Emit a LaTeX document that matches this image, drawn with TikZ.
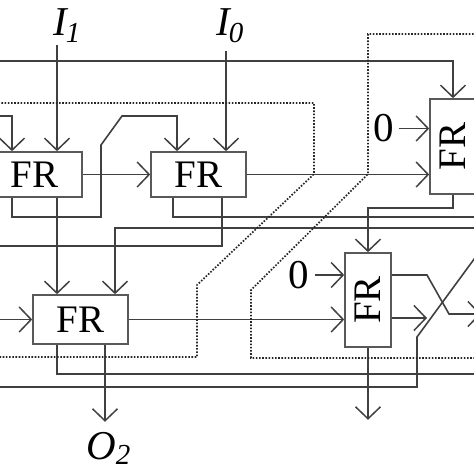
\documentclass[tikz,border=0pt]{standalone}
\usepackage{fontspec}
\setmainfont{Liberation Serif}
\usetikzlibrary{arrows.meta}
\begin{document}
\begin{tikzpicture}[x=1pt,y=-1pt,
  wire/.style={draw=black!75, line width=1.6pt},
  arr/.style={wire,-{Straight Barb[length=12pt,width=25pt,line width=1.5pt]}},
  dots/.style={draw=black!85,line width=1.7pt,dash pattern=on 1.6pt off 1.6pt},
  box/.style={draw=black!65,line width=1.6pt,inner sep=0pt,font=\fontsize{39}{39}\selectfont},
  lbl/.style={inner sep=0pt,font=\fontsize{41}{41}\selectfont}]
\useasboundingbox (0,0) rectangle (474,474);
\clip (0,0) rectangle (474,474);

% boxes
\node[box,minimum width=95pt,minimum height=45pt] (fr1) at (34.5,174.5) {FR};
\node[box,minimum width=95pt,minimum height=45pt] (fr2) at (198.5,174.5) {FR};
\node[box,minimum width=95pt,minimum height=49pt] (fr3) at (80.5,319.5) {FR};
\node[box,minimum width=46pt,minimum height=95pt] (fr4) at (453,146.5) {\rotatebox{90}{FR}};
\node[box,minimum width=46pt,minimum height=94pt] (fr5) at (368,300) {\rotatebox{90}{FR}};

% labels
\node[lbl,anchor=base west] (i1) at (53,35) {\itshape I\kern-1pt\raisebox{-7pt}{\fontsize{29}{29}\selectfont 1}};
\node[lbl,anchor=base west] (i0) at (216,35) {\itshape I\kern-1pt\raisebox{-7pt}{\fontsize{29}{29}\selectfont 0}};
\node[lbl,anchor=base west] (o2) at (86,459) {\itshape O\raisebox{-5pt}{\fontsize{29}{29}\selectfont 2}};
\node[lbl] (z1) at (384,128.5) {0};
\node[lbl] (z2) at (298.5,275) {0};

% column / row helpers
\coordinate (c12) at (12,0);
\coordinate (c57) at (57,0);
\coordinate (c105) at (105,0);
\coordinate (c115) at (115,0);
\coordinate (c173) at (173,0);
\coordinate (c177) at (177,0);
\coordinate (c222) at (222,0);
\coordinate (r275) at (0,275);
\coordinate (r318) at (0,318);
\coordinate (i1w) at (57,45);
\coordinate (i0w) at (226,51);
\coordinate (t0) at (-5,61);
\coordinate (l116) at (-5,116);
\coordinate (l318) at (-5,319.5);

% solid connectors
\draw[arr] (t0) -| (fr4.north);
\draw[arr] (i1w) -- (i1w |- fr1.north);
\draw[arr] (i0w) -- (i0w |- fr2.north);
\draw[arr] (l116) -| (fr1.north -| c12);
\draw[arr] (fr1.south -| c12) |- (101,217) -- (101,145) -- (122,116) -| (fr2.north -| c177);
\draw[arr] (fr1.east) -- (fr2.west);
\draw[arr] (fr1.south -| c57) -- (fr3.north -| c57);
\draw[wire] (fr2.south -| c173) |- (480,217);
\draw[wire] (fr2.south -| c222) |- (-5,246);
\draw[arr] (480,228) -| (fr3.north -| c115);
\draw[arr] (fr2.east) -- (fr2.east -| fr4.west);
\draw[arr] ([xshift=5pt]z1.east) -- (z1 -| fr4.west);
\draw[arr] (fr4.south) -- ++(0,13) -| (fr5.north);
\draw[arr] ([xshift=6pt]z2.east) -- (z2 -| fr5.west);
\draw[arr] (l318) -- (fr3.west);
\draw[arr] (fr3.east) -- (fr3.east -| fr5.west);
\draw[wire] (fr3.south -| c57) |- (480,374);
\draw[arr] (fr3.south -| c105) -- ++(0,77);
\draw[wire] (-5,387) -| (417,337) -- (480,251);
\draw[arr] (fr5.east |- r275) -- (427,275) -- (449,314) -- (481,314);
\draw[arr] (fr5.east |- r318) -- (427,318);
\draw[arr] (fr5.south) -- ++(0,72);

% dotted connectors
\draw[dots] (-5,103) -| (314,174) -- (197,285) |- (-5,357);
\draw[dots] (480,34) -| (368,174) -- (251,290) |- (480,358);
\end{tikzpicture}
\end{document}
